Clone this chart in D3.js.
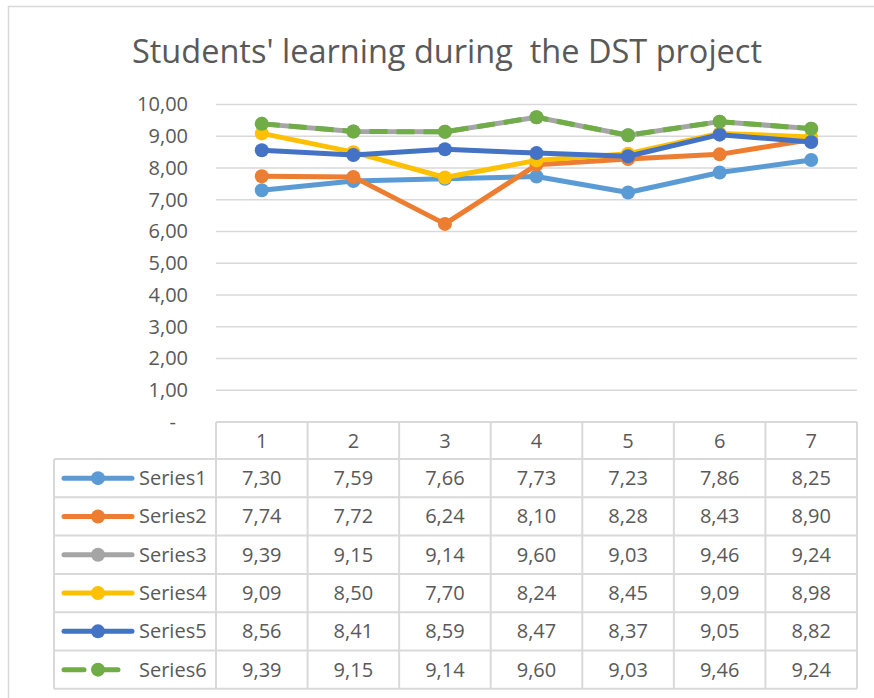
<!DOCTYPE html>
<html>
<head>
<meta charset="utf-8">
<title>Students' learning during the DST project</title>
<script src="https://d3js.org/d3.v7.min.js"></script>
<style>
    body { margin: 0; background: #fff; }
    svg { display: block; font-family: "Open Sans", "Noto Sans", sans-serif; }
</style>
</head>
<body>
<script>

    // chart data
    var categories = ["1", "2", "3", "4", "5", "6", "7"];
    var seriesNames = ["Series1", "Series2", "Series3", "Series4", "Series5", "Series6"];
    var series1 = [7.30, 7.59, 7.66, 7.73, 7.23, 7.86, 8.25];
    var series2 = [7.74, 7.72, 6.24, 8.10, 8.28, 8.43, 8.90];
    var series3 = [9.39, 9.15, 9.14, 9.60, 9.03, 9.46, 9.24];
    var series4 = [9.09, 8.50, 7.70, 8.24, 8.45, 9.09, 8.98];
    var series5 = [8.56, 8.41, 8.59, 8.47, 8.37, 9.05, 8.82];
    var series6 = [9.39, 9.15, 9.14, 9.60, 9.03, 9.46, 9.24];
    var yTicks = [0, 1, 2, 3, 4, 5, 6, 7, 8, 9, 10];

    var colors = ["#5B9BD5", "#ED7D31", "#A5A5A5", "#FFC000", "#4472C4", "#70AD47"];
    var allSeries = [series1, series2, series3, series4, series5, series6];

    var width = 874,
        height = 698;

    var svg = d3.select("body")
        .append("svg")
        .attr("width", width)
        .attr("height", height);

    // chart area border
    svg.append("rect")
        .attr("x", 8.5).attr("y", 6.5)
        .attr("width", 880).attr("height", 720)
        .attr("fill", "none")
        .attr("stroke", "#d9d9d9")
        .attr("stroke-width", 1.5);

    svg.append("text")
        .attr("x", 447)
        .attr("y", 63)
        .attr("text-anchor", "middle")
        .attr("fill", "#595959")
        .style("font-size", "32.5px")
        .style("white-space", "pre")
        .text("Students' learning during  the DST project");

    var plotLeft = 216, plotRight = 857,
        plotTop = 104.5, plotBottom = 422;

    var x = d3.scaleBand()
        .domain(categories)
        .range([plotLeft, plotRight]);

    var y = d3.scaleLinear()
        .domain([0, 10])
        .range([plotBottom, plotTop]);

    // gridlines
    svg.append("g")
        .selectAll("line")
        .data(yTicks.filter(function (d) { return d > 0; }))
        .enter()
        .append("line")
        .attr("x1", plotLeft)
        .attr("x2", plotRight)
        .attr("y1", function (d) { return y(d); })
        .attr("y2", function (d) { return y(d); })
        .attr("stroke", "#d9d9d9")
        .attr("stroke-width", 1.5);

    // y axis labels
    var yAxis = svg.append("g")
        .attr("transform", "translate(" + 188 + ",0)")
        .call(d3.axisLeft(y)
            .tickValues(yTicks)
            .tickSize(0)
            .tickPadding(0)
            .tickFormat(function (d) { return d === 0 ? "-" : d3.format(".2f")(d).replace(".", ","); }));
    yAxis.select(".domain").remove();
    yAxis.selectAll("text")
        .attr("fill", "#595959")
        .style("font-size", "20px")
        .style("font-family", "'Open Sans', sans-serif")
        .attr("dx", function (d) { return d === 0 ? -12 : 0; })
        .attr("dy", function (d) { return d === 0 ? "0.3em" : "0.32em"; });

    // lines
    var line = d3.line()
        .x(function (d, i) { return x(categories[i]) + x.bandwidth() / 2; })
        .y(function (d) { return y(d); });

    var lines = svg.append("g");
    allSeries.forEach(function (s, k) {
        lines.append("path")
            .datum(s)
            .attr("d", line)
            .attr("fill", "none")
            .attr("stroke", colors[k])
            .attr("stroke-width", 5)
            .attr("stroke-linejoin", "round")
            .attr("stroke-dasharray", k === 5 ? "18,9" : null);
        lines.selectAll(".m" + k)
            .data(s)
            .enter()
            .append("circle")
            .attr("class", "m" + k)
            .attr("cx", function (d, i) { return x(categories[i]) + x.bandwidth() / 2; })
            .attr("cy", function (d) { return y(d); })
            .attr("r", 7)
            .attr("fill", colors[k]);
    });

    // data table
    var tableTop = 422, headerH = 37, rowH = 38.3, legendLeft = 54;
    var table = svg.append("g");
    var gridColor = "#d9d9d9";
    var tableBottom = tableTop + headerH + rowH * seriesNames.length;

    // horizontal lines
    table.append("line")
        .attr("x1", plotLeft).attr("x2", plotRight)
        .attr("y1", tableTop).attr("y2", tableTop)
        .attr("stroke", gridColor).attr("stroke-width", 2);
    d3.range(seriesNames.length + 1).forEach(function (r) {
        var yy = tableTop + headerH + r * rowH;
        table.append("line")
            .attr("x1", legendLeft).attr("x2", plotRight)
            .attr("y1", yy).attr("y2", yy)
            .attr("stroke", gridColor).attr("stroke-width", 2);
    });
    // vertical lines
    table.append("line")
        .attr("x1", legendLeft).attr("x2", legendLeft)
        .attr("y1", tableTop + headerH).attr("y2", tableBottom)
        .attr("stroke", gridColor).attr("stroke-width", 2);
    categories.concat(["end"]).forEach(function (c, i) {
        var xx = plotLeft + i * x.bandwidth();
        table.append("line")
            .attr("x1", xx).attr("x2", xx)
            .attr("y1", tableTop).attr("y2", tableBottom)
            .attr("stroke", gridColor).attr("stroke-width", 2);
    });

    // header labels
    table.selectAll(".hdr")
        .data(categories)
        .enter()
        .append("text")
        .attr("class", "hdr")
        .attr("x", function (d) { return x(d) + x.bandwidth() / 2; })
        .attr("y", tableTop + headerH / 2)
        .attr("dy", "0.35em")
        .attr("text-anchor", "middle")
        .attr("fill", "#595959")
        .style("font-size", "20px")
        .text(function (d) { return d; });

    // rows
    seriesNames.forEach(function (name, k) {
        var cy = tableTop + headerH + k * rowH + rowH / 2;
        // legend key
        table.append("line")
            .attr("x1", 64).attr("x2", 132)
            .attr("y1", cy).attr("y2", cy)
            .attr("stroke", colors[k])
            .attr("stroke-width", 5)
            .attr("stroke-linecap", "round")
            .attr("stroke-dasharray", k === 5 ? "20,14" : null);
        table.append("circle")
            .attr("cx", 98).attr("cy", cy)
            .attr("r", 7)
            .attr("fill", colors[k]);
        table.append("text")
            .attr("x", 139).attr("y", cy)
            .attr("dy", "0.35em")
            .attr("fill", "#595959")
            .style("font-size", "20px")
            .text(name);
        table.selectAll(".v" + k)
            .data(allSeries[k])
            .enter()
            .append("text")
            .attr("x", function (d, i) { return x(categories[i]) + x.bandwidth() / 2; })
            .attr("y", cy)
            .attr("dy", "0.35em")
            .attr("text-anchor", "middle")
            .attr("fill", "#595959")
            .style("font-size", "20px")
            .text(function (d) { return d3.format(".2f")(d).replace(".", ","); });
    });

</script>
</body>
</html>
